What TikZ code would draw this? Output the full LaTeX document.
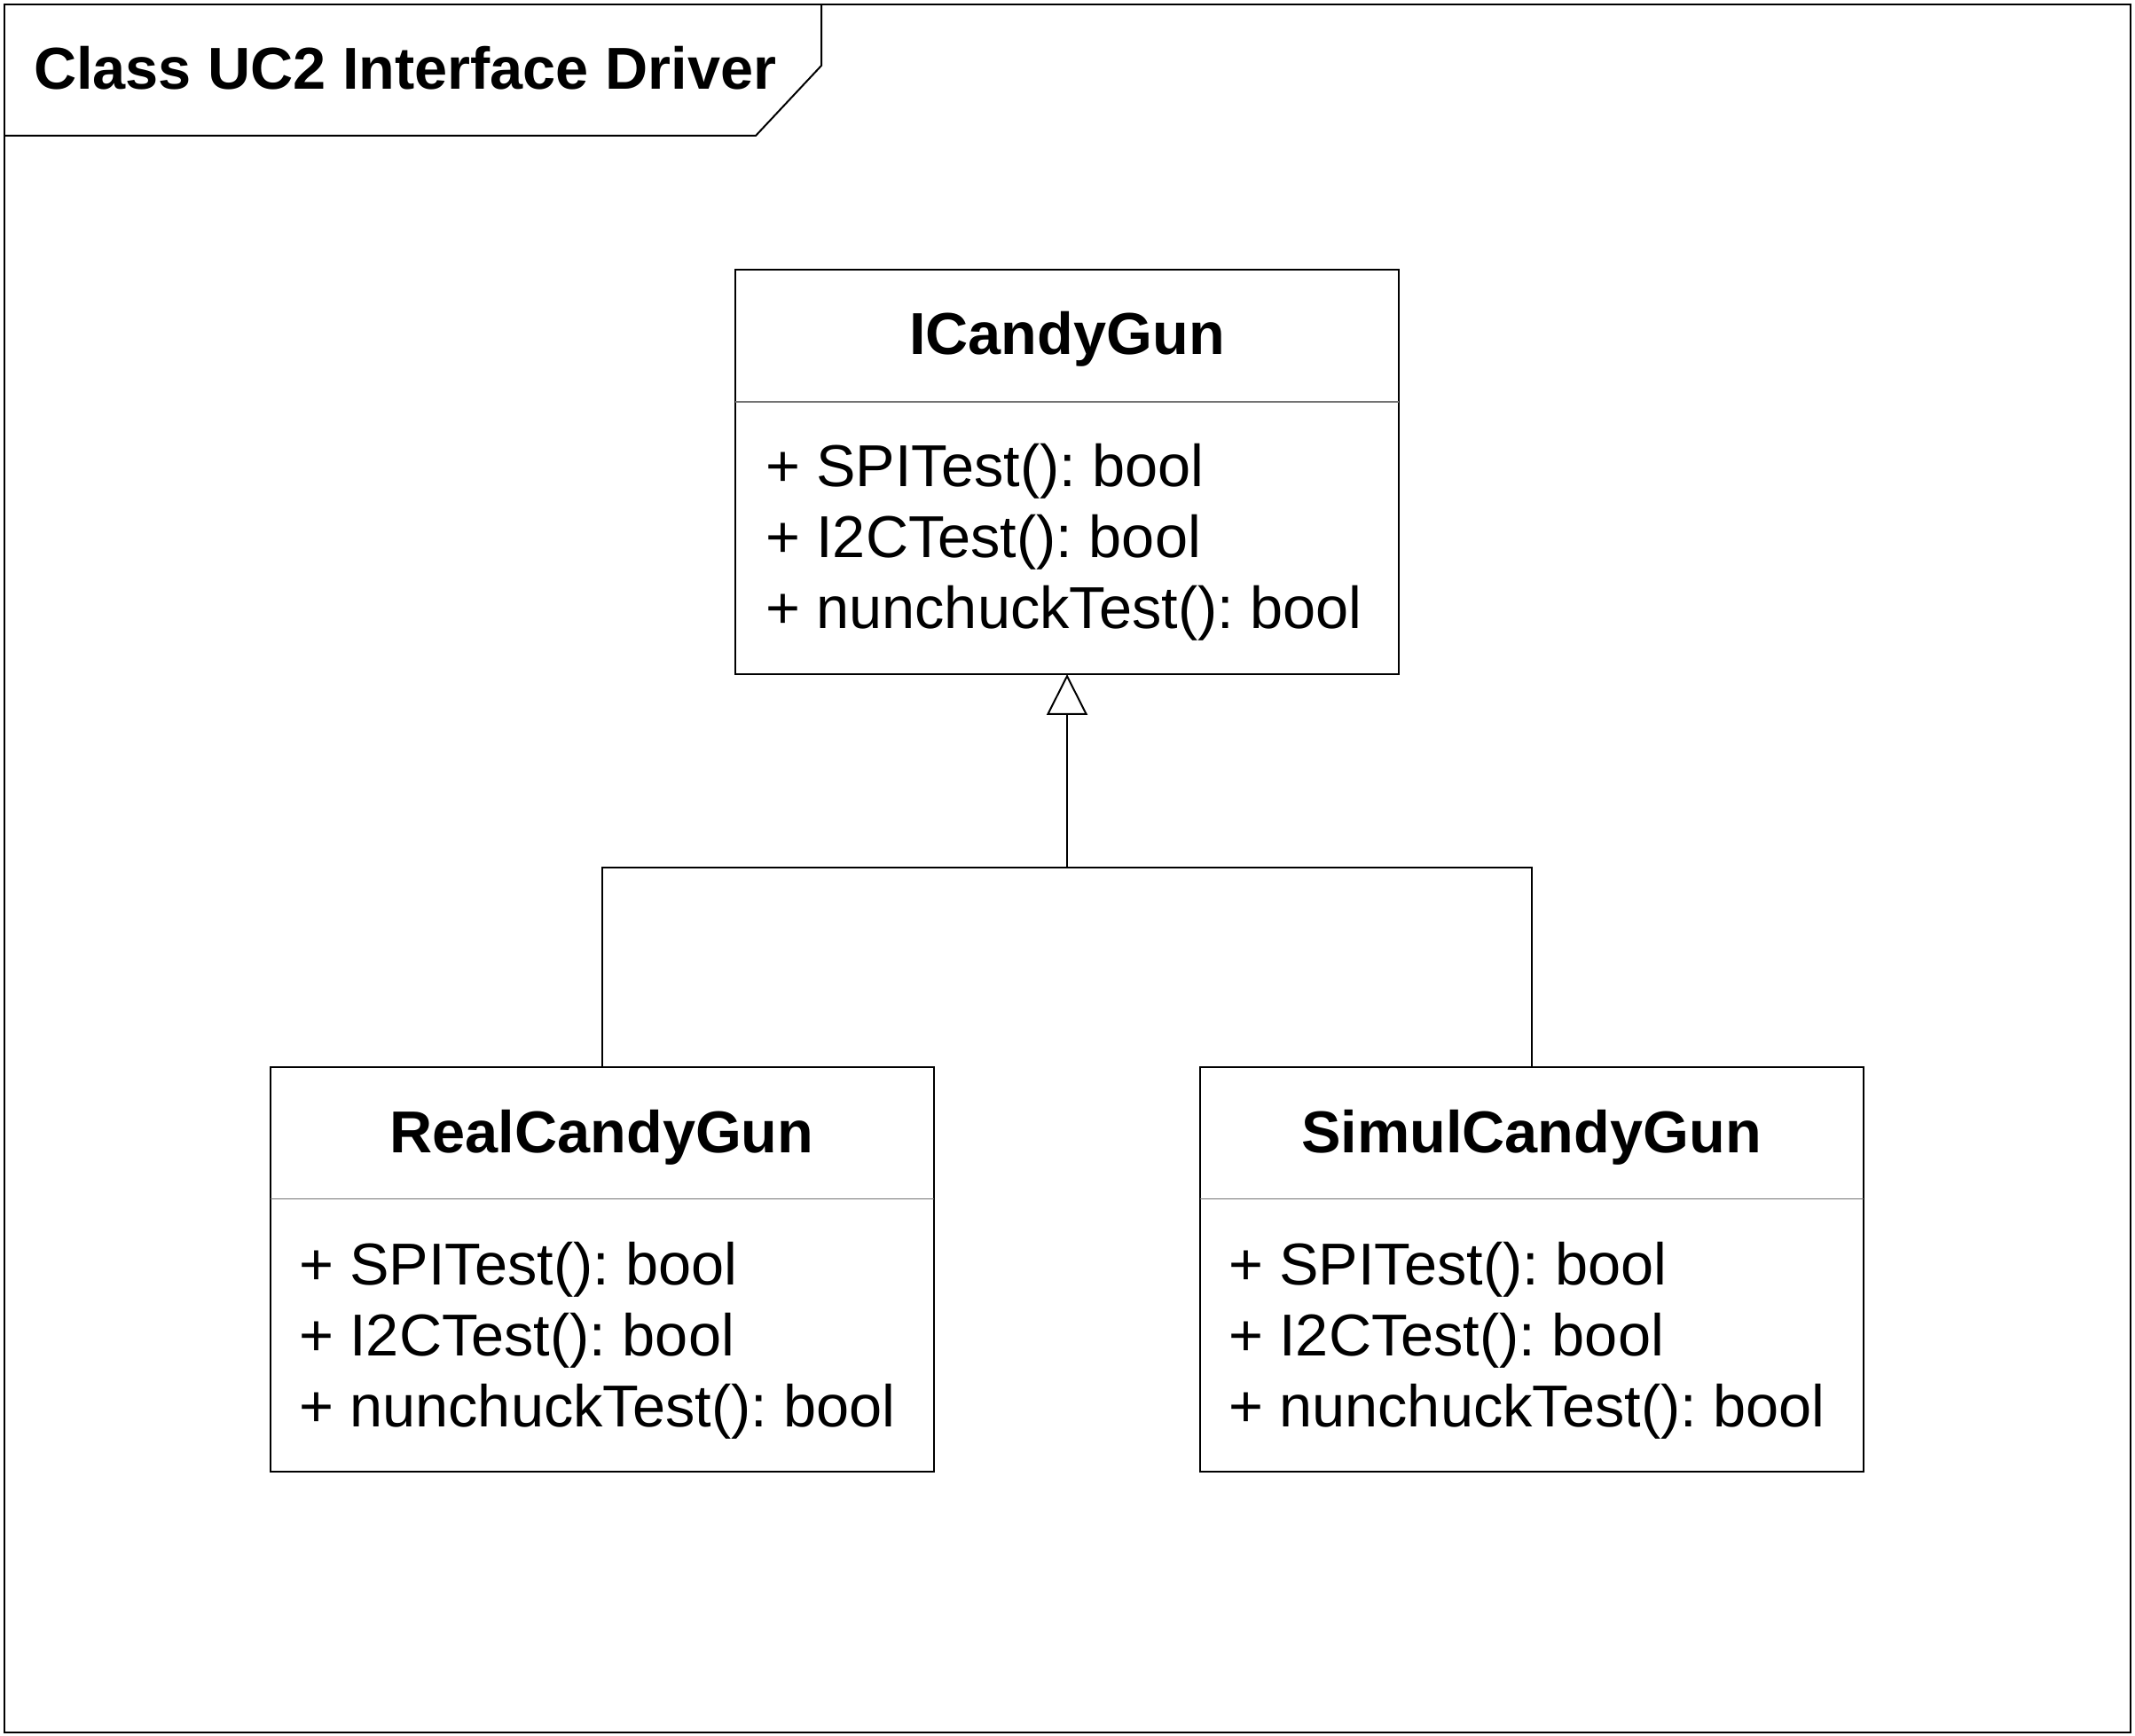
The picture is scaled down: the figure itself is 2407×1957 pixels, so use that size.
\documentclass[tikz,border=0pt]{standalone}
\usepackage{fontspec}
\setmainfont{Liberation Sans}
\usetikzlibrary{arrows.meta,calc}
\begin{document}
\frenchspacing
\begin{tikzpicture}[x=0.3pt,y=-0.3pt,
  every node/.style={inner sep=0pt,outer sep=0pt,font=\fontsize{20}{24}\selectfont},
  classbox/.style={draw=black,line width=0.6pt,rectangle,minimum width=224.4pt,minimum height=136.8pt},
  sepline/.style={draw=black!55,line width=0.45pt},
  titletext/.style={anchor=base,font=\fontsize{20}{24}\selectfont\bfseries},
  methodtext/.style={anchor=base west},
  conn/.style={line width=0.6pt},
  frameline/.style={line width=0.6pt}]
\useasboundingbox (0,0) rectangle (2407,1957);
% frame
\draw[frameline] (4.6,4.6) rectangle (2402,1953);
\draw[frameline] (926,4.6) -- (926,74) -- (852,153) -- (4.6,153);
\node[anchor=base west,font=\fontsize{20}{24}\selectfont\bfseries] (hdr) at (38,101) {Class UC2 Interface Driver};
% boxes
\node[classbox] (icg) at (1203,532) {};
\node[classbox] (real) at (678.5,1430.5) {};
\node[classbox] (simul) at (1726.5,1430.5) {};
\draw[sepline] ($(icg.north west)+(0,149)$) -- ($(icg.north east)+(0,149)$);
\draw[sepline] ($(real.north west)+(0,149)$) -- ($(real.north east)+(0,149)$);
\draw[sepline] ($(simul.north west)+(0,149)$) -- ($(simul.north east)+(0,149)$);
% ICandyGun
\node[titletext] (icgt) at (1203,400) {ICandyGun};
\node[methodtext] (icg1) at (863,549) {+ SPITest(): bool};
\node[methodtext] (icg2) at (863,629) {+ I2CTest(): bool};
\node[methodtext] (icg3) at (863,709) {+ nunchuckTest(): bool};
% RealCandyGun
\node[titletext] (realt) at (678.5,1299) {RealCandyGun};
\node[methodtext] (real1) at (337,1448) {+ SPITest(): bool};
\node[methodtext] (real2) at (337,1528) {+ I2CTest(): bool};
\node[methodtext] (real3) at (337,1608) {+ nunchuckTest(): bool};
% SimulCandyGun
\node[titletext] (simult) at (1726.5,1299) {SimulCandyGun};
\node[methodtext] (simul1) at (1385,1448) {+ SPITest(): bool};
\node[methodtext] (simul2) at (1385,1528) {+ I2CTest(): bool};
\node[methodtext] (simul3) at (1385,1608) {+ nunchuckTest(): bool};
% generalization
\coordinate (junc) at (1203,978);
\draw[conn] (real.north) |- (junc) -| (simul.north);
\draw[conn,-{Triangle[open,length=13.8pt,width=13.8pt]}] (junc) -- (icg.south);
\end{tikzpicture}
\end{document}
